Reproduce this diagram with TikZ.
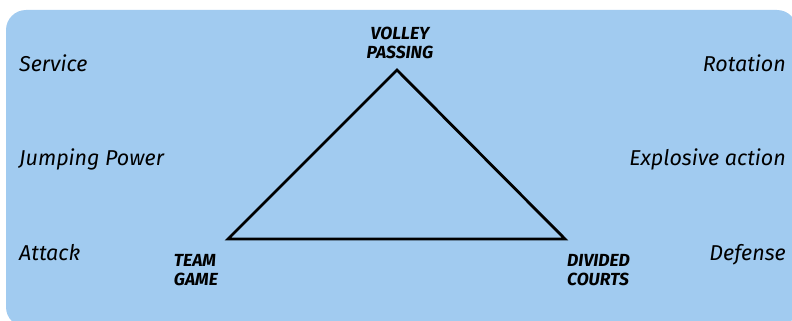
\documentclass[tikz,border=0pt]{standalone}
\usepackage{fontspec}
\setmainfont{Fira Sans}
\usepackage{xcolor}
\usetikzlibrary{positioning}
\definecolor{courtblue}{RGB}{161,203,240}
\tikzset{side/.style={font=\fontsize{21.5}{24}\selectfont\itshape,inner sep=0pt},
  corner/.style={font=\fontsize{17.5}{19}\selectfont\bfseries\itshape,align=left,inner sep=0pt},
  edge/.style={draw=black,line width=2.8pt,line join=miter}}

\begin{document}
\begin{tikzpicture}[x=1pt,y=-1pt]
\useasboundingbox (0,0) rectangle (792,321);
\begin{scope}
\clip (0,0) rectangle (792,321);
\fill[courtblue,rounded corners=20pt] (6,10) rectangle (797,327);
\end{scope}
\coordinate (top) at (397,70);
\coordinate (left) at (228,239);
\coordinate (right) at (565,239);
\draw[edge] (top) -- (left) -- (right) -- cycle;
\node[corner,align=center,above=11pt of top,xshift=3pt] (volley) {VOLLEY\\PASSING};
\node[corner,anchor=north east] (team) at (218,254) {TEAM\\GAME};
\node[corner,anchor=north west] (courts) at (567,254) {DIVIDED\\COURTS};
\node[side,anchor=base west] (service) at (19,71) {Service};
\node[side,anchor=base west] (jump) at (19,165) {Jumping Power};
\node[side,anchor=base west] (attack) at (19,260) {Attack};
\node[side,anchor=base east] (rotation) at (786,71) {Rotation};
\node[side,anchor=base east] (explosive) at (786,165) {Explosive action};
\node[side,anchor=base east] (defense) at (786,260) {Defense};
\end{tikzpicture}
\end{document}
